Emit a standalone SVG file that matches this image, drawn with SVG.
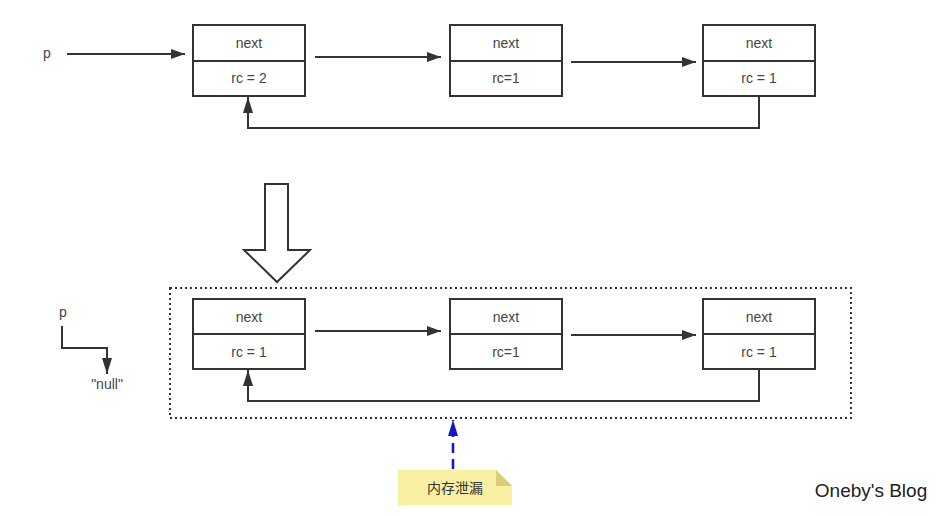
<svg xmlns="http://www.w3.org/2000/svg" width="942" height="516" viewBox="0 0 942 516">
<defs>
<marker id="ah" markerWidth="14" markerHeight="10" refX="14" refY="5" orient="auto" markerUnits="userSpaceOnUse"><path d="M0,0 L14,5 L0,10 Z" fill="#333"/></marker>
<marker id="ahv" markerWidth="16" markerHeight="10" refX="16" refY="5" orient="auto" markerUnits="userSpaceOnUse"><path d="M0,0 L16,5 L0,10 Z" fill="#333"/></marker>
<marker id="ahb" markerWidth="16" markerHeight="10" refX="16" refY="5" orient="auto" markerUnits="userSpaceOnUse"><path d="M0,0 L16,5 L0,10 Z" fill="#1515c8"/></marker>
</defs>
<style>
.box{fill:#fff;stroke:#333;stroke-width:2}
.div{stroke:#333;stroke-width:2}
.t{font-family:"Liberation Sans",Arial,sans-serif;font-size:14px;fill:#444;text-anchor:middle}
.c{fill:none;stroke:#333;stroke-width:2}
</style>
<rect width="942" height="516" fill="#fff"/>
<g id="top-node1"><rect class="box" x="193" y="25" width="112" height="71"/><line class="div" x1="193" y1="61" x2="305" y2="61"/><text class="t" x="249" y="48">next</text><text class="t" x="249" y="83">rc = 2</text></g>
<g id="top-node2"><rect class="box" x="450" y="25" width="112" height="71"/><line class="div" x1="450" y1="61" x2="562" y2="61"/><text class="t" x="506" y="48">next</text><text class="t" x="506" y="83">rc=1</text></g>
<g id="top-node3"><rect class="box" x="703" y="25" width="112" height="71"/><line class="div" x1="703" y1="61" x2="815" y2="61"/><text class="t" x="759" y="48">next</text><text class="t" x="759" y="83">rc = 1</text></g>
<g id="p-top"><text class="t" x="47" y="58">p</text></g>
<g id="bottom-group"><rect x="170" y="288" width="681" height="130" fill="none" stroke="#333" stroke-width="2" stroke-dasharray="2,3"/></g>
<g id="bot-node1"><rect class="box" x="193" y="299" width="112" height="70"/><line class="div" x1="193" y1="334" x2="305" y2="334"/><text class="t" x="249" y="322">next</text><text class="t" x="249" y="357">rc = 1</text></g>
<g id="bot-node2"><rect class="box" x="450" y="299" width="112" height="70"/><line class="div" x1="450" y1="334" x2="562" y2="334"/><text class="t" x="506" y="322">next</text><text class="t" x="506" y="357">rc=1</text></g>
<g id="bot-node3"><rect class="box" x="703" y="299" width="112" height="70"/><line class="div" x1="703" y1="334" x2="815" y2="334"/><text class="t" x="759" y="322">next</text><text class="t" x="759" y="357">rc = 1</text></g>
<g id="p-bottom"><text class="t" x="63" y="317">p</text><text class="t" x="107" y="389">"null"</text></g>
<g id="big-arrow"><path d="M265,184 L288,184 L288,250 L310,250 L277,282 L244,250 L265,250 Z" fill="#fff" stroke="#333" stroke-width="2"/></g>
<g id="note"><path d="M398,470 L496,470 L512,486 L512,505 L398,505 Z" fill="#f7f0a2"/><path d="M496,470 L512,486 L496,486 Z" fill="#d8ce7a"/><text x="455" y="493" font-family="'Noto Sans CJK SC',sans-serif" font-size="14" fill="#333" text-anchor="middle">内存泄漏</text></g>
<g id="connectors">
<line class="c" x1="67" y1="54" x2="185" y2="54" marker-end="url(#ah)"/>
<line class="c" x1="315" y1="57" x2="441" y2="57" marker-end="url(#ah)"/>
<line class="c" x1="571" y1="62" x2="696" y2="62" marker-end="url(#ah)"/>
<polyline class="c" points="759,96 759,128 248,128 248,97" marker-end="url(#ahv)"/>
<line class="c" x1="315" y1="331" x2="441" y2="331" marker-end="url(#ah)"/>
<line class="c" x1="571" y1="335" x2="696" y2="335" marker-end="url(#ah)"/>
<polyline class="c" points="759,369 759,401 248,401 248,370" marker-end="url(#ahv)"/>
<polyline class="c" points="62,326 62,348 107,348 107,374" marker-end="url(#ahv)"/>
<line x1="453" y1="469" x2="453" y2="420" stroke="#1515c8" stroke-width="2.5" stroke-dasharray="10,6" marker-end="url(#ahb)"/>
</g>
<text x="871" y="497" font-family="'Liberation Sans',Arial,sans-serif" font-size="19" fill="#222" text-anchor="middle">Oneby's Blog</text>
</svg>
